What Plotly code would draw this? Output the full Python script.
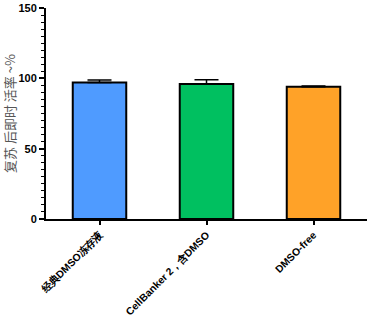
import plotly.graph_objects as go

categories = ["经典DMSO冻存液", "CellBanker 2，含DMSO", "DMSO-free"]
values = [97, 96, 94]
errors = [1.8, 3.0, 0.6]
colors = ["#4f9bff", "#00c060", "#ffa228"]

fig = go.Figure()
fig.add_trace(go.Bar(
    x=[0, 1, 2], y=values,
    width=0.5,
    marker=dict(color=colors, line=dict(color="black", width=2)),
    error_y=dict(type="data", array=errors, symmetric=False, arrayminus=[0, 0, 0],
                 color="black", thickness=1.5, width=12),
))

fig.update_layout(
    width=369, height=320,
    margin=dict(l=46, r=2, t=8, b=101),
    plot_bgcolor="white", paper_bgcolor="white",
    showlegend=False,
    font=dict(family="Arial, Liberation Sans", color="black"),
)
fig.update_xaxes(
    range=[-0.5, 2.5], automargin=False,
    tickmode="array", tickvals=[0, 1, 2],
    ticktext=["<b>%s</b>" % c for c in categories],
    tickangle=-45, tickfont=dict(size=10.3, family="Arial, Liberation Sans"),
    showline=True, linecolor="black", linewidth=2,
    ticks="outside", ticklen=4, tickwidth=1.5, tickcolor="black",
    showgrid=False, zeroline=False,
)
fig.update_yaxes(
    range=[0, 150], automargin=False,
    tickvals=[0, 50, 100, 150],
    ticktext=["<b>0</b>", "<b>50</b>", "<b>100</b>", "<b>150</b>"],
    tickfont=dict(size=11, family="Arial, Liberation Sans"),
    showline=True, linecolor="black", linewidth=2,
    ticks="outside", ticklen=5, tickwidth=1.5, tickcolor="black",
    minor=dict(dtick=5, ticks="outside", ticklen=3, tickwidth=1, tickcolor="black", showgrid=False),
    showgrid=False, zeroline=False,
    title=dict(text="复苏 后即时 活率 ~%", font=dict(size=13, color="#555555", family="Noto Sans CJK SC"), standoff=6),
)

fig.write_html("out.html")
